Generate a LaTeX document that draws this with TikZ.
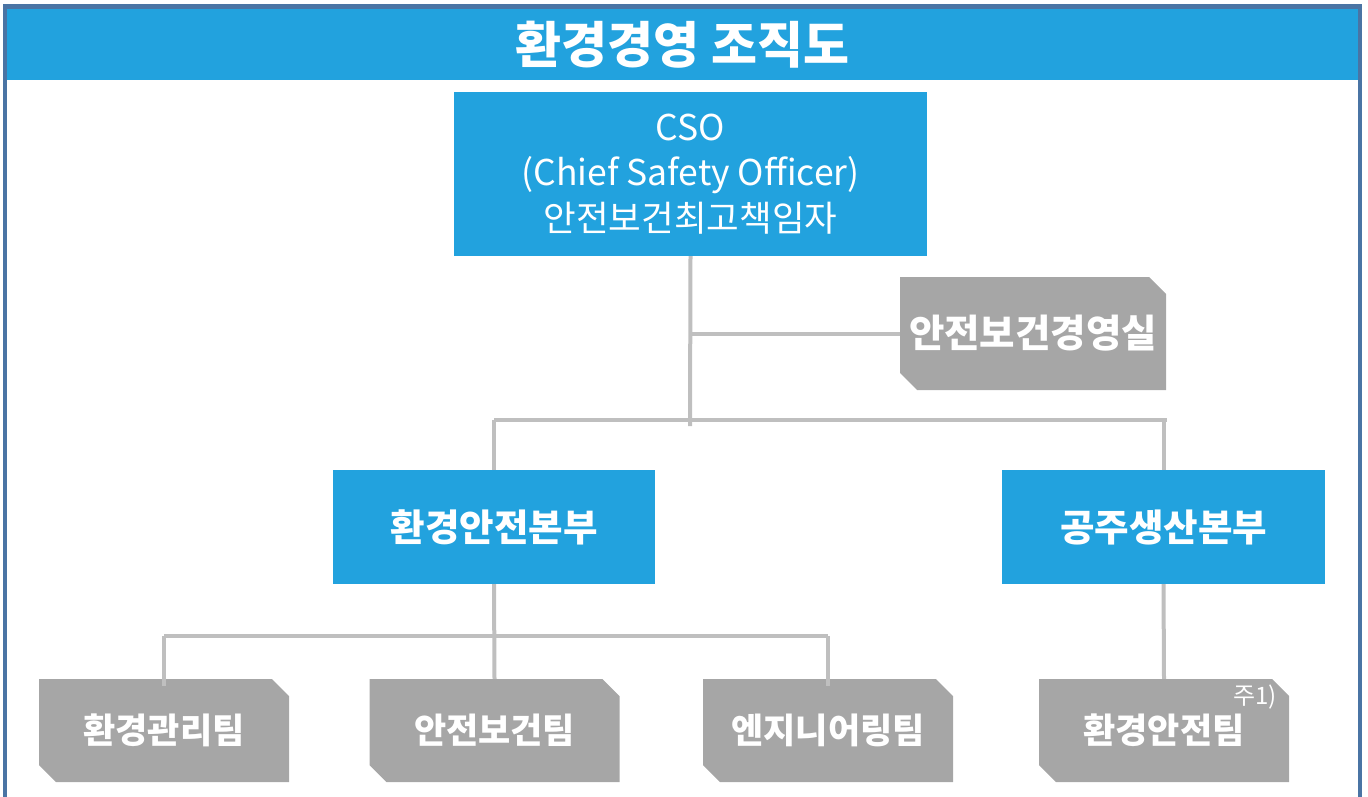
\documentclass[tikz,border=0pt]{standalone}
\usepackage{fontspec}
\setmainfont{Noto Sans CJK KR}
\definecolor{bandblue}{HTML}{22A2DE}
\definecolor{boxgray}{HTML}{A6A6A6}
\definecolor{linegray}{HTML}{BFBFBF}
\definecolor{framec}{HTML}{4A74A4}
\tikzset{
  conn/.style={draw=linegray, line width=4pt},
  bluebox/.style={fill=bandblue, text=white, inner sep=0pt, align=center},
  graybox/.style={text=white, inner sep=0pt, align=center,
    minimum width=250pt, minimum height=103pt,
    font=\fontsize{35}{40}\selectfont\bfseries,
    path picture={\fill[boxgray]
      (path picture bounding box.north west)
      -- ([xshift=-17pt]path picture bounding box.north east)
      -- ([yshift=-17pt]path picture bounding box.north east)
      -- (path picture bounding box.south east)
      -- ([xshift=17pt]path picture bounding box.south west)
      -- ([yshift=17pt]path picture bounding box.south west)
      -- cycle;}},
}
\begin{document}
\begin{tikzpicture}[x=1pt,y=-1pt]
\useasboundingbox (0,0) rectangle (1368,796);
% frame
\draw[framec, line width=4.5pt] (5,800) -- (5,6.5) -- (1360,6.5) -- (1360,800);
% title band
\node[bluebox, minimum width=1351pt, minimum height=71pt,
  font=\fontsize{50}{56}\selectfont\bfseries] (title) at (682.5,44.5) {환경경영 조직도};
% CSO
\node[bluebox, minimum width=473pt, minimum height=164pt,
  font=\fontsize{35.5}{45.5}\selectfont] (cso) at (690.5,174) {CSO\\(Chief Safety Officer)\\안전보건최고책임자};
% office
\node[graybox, minimum width=266pt, minimum height=113pt,
  font=\fontsize{38.5}{44}\selectfont\bfseries] (office) at (1033,333.5) {안전보건경영실};
% divisions
\node[bluebox, minimum width=322pt, minimum height=114pt,
  font=\fontsize{37.5}{42}\selectfont\bfseries] (env) at (494,527) {환경안전본부};
\node[bluebox, minimum width=323pt, minimum height=114pt,
  font=\fontsize{37.5}{42}\selectfont\bfseries] (prod) at (1163.5,527) {공주생산본부};
% teams
\node[graybox] (t1) at (164,730.5) {환경관리팀};
\node[graybox] (t2) at (494.5,730.5) {안전보건팀};
\node[graybox] (t3) at (828,730.5) {엔지니어링팀};
\node[graybox] (t4) at (1164,730.5) {환경안전팀};
\node[text=white, inner sep=0pt, font=\fontsize{24}{28}\selectfont] (note)
  at ([xshift=-34pt,yshift=-18pt]t4.north east) {주1)};
% connector coordinates
\coordinate (csoEnd) at (690,426);
\coordinate (busL) at (494,420);
\coordinate (busR) at (1167,420);
\coordinate (bus2L) at (164,636);
\coordinate (bus2R) at (828,636);
% connectors
\draw[conn] (cso.south) -- (csoEnd);
\draw[conn] (cso.south |- office.west) -- (office.west);
\draw[conn] (busL) -- (busR);
\draw[conn] (busL) -- (env.north);
\draw[conn] (prod.north |- busR) -- (prod.north);
\draw[conn] (env.south) -- (t2.north);
\draw[conn] (bus2L) -- (bus2R);
\draw[conn] (bus2L) -- ([yshift=-7pt]t1.north);
\draw[conn] (bus2R) -- ([yshift=-7pt]t3.north);
\draw[conn] (prod.south) -- (t4.north);
\end{tikzpicture}
\end{document}
